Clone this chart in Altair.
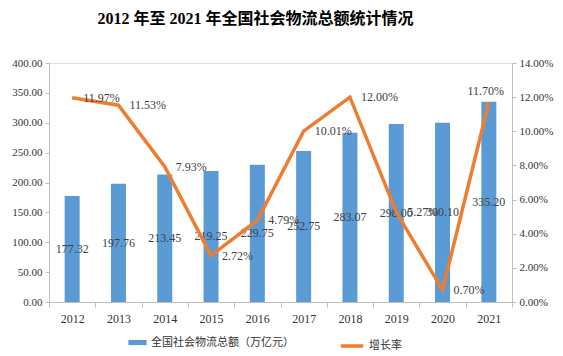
import altair as alt
import pandas as pd

years = ["2012", "2013", "2014", "2015", "2016", "2017", "2018", "2019", "2020", "2021"]
totals = [177.32, 197.76, 213.45, 219.25, 229.75, 252.75, 283.07, 298.00, 300.10, 335.20]
growth = [11.97, 11.53, 7.93, 2.72, 4.79, 10.01, 12.00, 5.27, 0.70, 11.70]

bar_name = "全国社会物流总额（万亿元）"
line_name = "增长率"

df = pd.DataFrame({
    "year": years,
    "total": totals,
    "rate": [g / 100 for g in growth],
    "bar_s": bar_name,
    "line_s": line_name,
})

SERIF = "Liberation Serif, Noto Sans CJK SC"
CJK = "Noto Sans CJK SC"

x = alt.X("year:N", sort=years, title=None,
          scale=alt.Scale(paddingInner=0, paddingOuter=0),
          axis=alt.Axis(labelAngle=0, labelFont=SERIF, labelFontSize=12, labelColor="#333333",
                        domainColor="#BFBFBF", tickColor="#BFBFBF", tickBand="extent",
                        tickSize=5, labelPadding=6))

left_axis = alt.Axis(values=[0, 50, 100, 150, 200, 250, 300, 350, 400], format=".2f",
                     grid=False, labelFont=SERIF, labelFontSize=11, labelColor="#333333",
                     domainColor="#BFBFBF", tickColor="#BFBFBF", tickSize=4, labelPadding=3)
left_scale = alt.Scale(domain=[0, 400])

right_axis = alt.Axis(orient="right", values=[0, 0.02, 0.04, 0.06, 0.08, 0.10, 0.12, 0.14],
                      format=".2%", grid=False, labelFont=SERIF, labelFontSize=11,
                      labelColor="#333333", domainColor="#BFBFBF", tickColor="#BFBFBF",
                      tickSize=4, labelPadding=3)
right_scale = alt.Scale(domain=[0, 0.14])

base = alt.Chart(df)

bars = base.mark_bar(size=15).encode(
    x=x,
    y=alt.Y("total:Q", title=None, scale=left_scale, axis=left_axis),
    color=alt.Color("bar_s:N", scale=alt.Scale(domain=[bar_name], range=["#5B9BD5"]),
                    legend=alt.Legend(title=None, orient="none", legendX=79, legendY=270,
                                      symbolType="M-1,-0.28H1V0.28H-1Z", symbolSize=330,
                                      labelFont=CJK, labelFontSize=11, labelColor="#333333",
                                      symbolStrokeWidth=0)),
)

bar_labels = base.mark_text(font=SERIF, fontSize=12, color="#404040").encode(
    x=x,
    y=alt.Y("mid:Q", title=None, scale=left_scale, axis=left_axis),
    text=alt.Text("total:Q", format=".2f"),
).transform_calculate(mid="datum.total / 2")

left = alt.layer(bars, bar_labels)

line = base.mark_line(strokeWidth=3.5).encode(
    x=x,
    y=alt.Y("rate:Q", title=None, scale=right_scale, axis=right_axis),
    stroke=alt.Stroke("line_s:N", scale=alt.Scale(domain=[line_name], range=["#ED7D31"]),
                      legend=alt.Legend(title=None, orient="none", legendX=290, legendY=270,
                                        symbolType="stroke", symbolStrokeWidth=3.5, symbolSize=500,
                                        labelFont=CJK, labelFontSize=11, labelColor="#333333")),
)

line_labels = base.mark_text(font=SERIF, fontSize=12, color="#404040", align="left",
                             baseline="middle", dx=11).encode(
    x=x,
    y=alt.Y("rate:Q", title=None, scale=right_scale, axis=right_axis),
    text=alt.Text("rate:Q", format=".2%"),
).transform_filter(alt.datum.year != "2021")

last_label = base.mark_text(font=SERIF, fontSize=12, color="#404040", align="center",
                            baseline="middle", dy=-11, dx=-3).encode(
    x=x,
    y=alt.Y("rate:Q", title=None, scale=right_scale, axis=right_axis),
    text=alt.Text("rate:Q", format=".2%"),
).transform_filter(alt.datum.year == "2021")

right = alt.layer(line, line_labels, last_label)

chart = alt.layer(left, right).resolve_scale(y="independent").properties(
    width=463, height=239,
    title=alt.Title("2012 年至 2021 年全国社会物流总额统计情况", font=SERIF, fontSize=16,
                    fontWeight="bold", color="#000000", anchor="middle", offset=30, dx=-25),
    autosize=alt.AutoSizeParams(type="none"),
    padding={"left": 49, "top": 63, "right": 51, "bottom": 54},
).configure_view(stroke=None).configure(background="white")

chart.save("out.html", embed_options={"renderer": "svg", "actions": False})
